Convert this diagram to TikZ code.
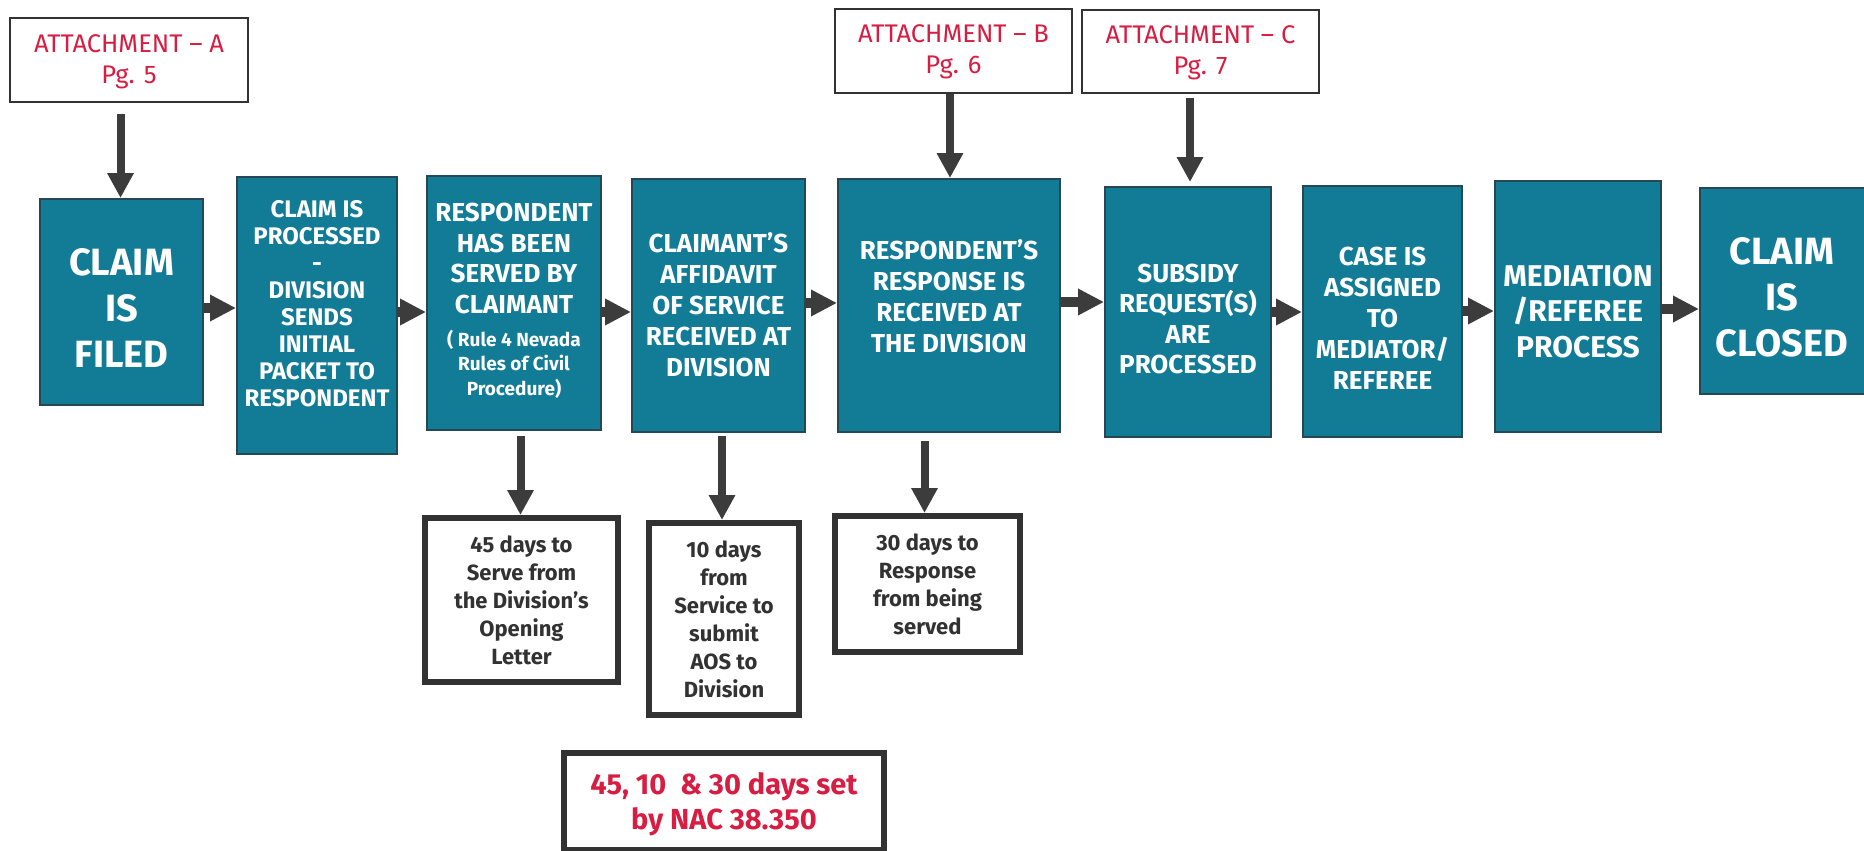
\documentclass[tikz,border=0pt]{standalone}
\usepackage{fontspec}
\setmainfont{Fira Sans}
\usetikzlibrary{arrows.meta,calc}
\definecolor{teal1}{RGB}{18,123,150}
\definecolor{tealedge}{RGB}{38,72,86}
\definecolor{arrgray}{RGB}{60,60,60}
\definecolor{redtxt}{RGB}{215,30,66}
\definecolor{darktxt}{RGB}{50,50,50}
\begin{document}
\begin{tikzpicture}[x=1pt,y=-1pt,
  tbox/.style={draw=tealedge, line width=2pt, fill=teal1, inner sep=0pt},
  ttext/.style={text=white, align=center, inner sep=0pt},
  abox/.style={draw=darktxt, line width=2pt, fill=white, inner sep=0pt},
  atext/.style={text=redtxt, align=center, inner sep=0pt, font=\fontsize{25.5}{31}\selectfont},
  lbox/.style={draw=darktxt, line width=6pt, fill=white, inner sep=0pt},
  ltext/.style={text=darktxt, align=center, inner sep=0pt, font=\bfseries\fontsize{22}{28}\selectfont},
  harr/.style={draw=arrgray, line width=10pt, -{Triangle[width=25pt,length=26pt]}},
  varr/.style={draw=arrgray, line width=8pt, -{Triangle[width=25pt,length=25pt]}}
]
\fill[white] (0,0) rectangle (1864,851);
\useasboundingbox (0,0) rectangle (1864,851);

% attachment boxes
\node[abox, minimum width=238pt, minimum height=84pt] (attA) at (129,60) {};
\node[atext] (attAt) at (129,62) {ATTACHMENT – A\\Pg. 5};
\node[abox, minimum width=237pt, minimum height=84pt] (attB) at (953.5,51) {};
\node[atext] (attBt) at (953.5,52) {ATTACHMENT – B\\Pg. 6};
\node[abox, minimum width=237pt, minimum height=83pt] (attC) at (1200.5,51.5) {};
\node[atext] (attCt) at (1200.5,53) {ATTACHMENT – C\\Pg. 7};

% main teal boxes
\node[tbox, minimum width=163pt, minimum height=206pt] (b1) at (121.5,302) {};
\node[ttext, font=\bfseries\fontsize{38}{46}\selectfont] (b1t) at (121.5,308) {CLAIM\\IS\\FILED};

\node[tbox, minimum width=160pt, minimum height=277pt] (b2) at (317,315.5) {};
\node[ttext, font=\bfseries\fontsize{24}{27}\selectfont] (b2t) at (317,304) {CLAIM IS\\PROCESSED\\-\\DIVISION\\SENDS\\INITIAL\\PACKET TO\\RESPONDENT};

\node[tbox, minimum width=174pt, minimum height=254pt] (b3) at (514,303) {};
\node[ttext, font=\bfseries\fontsize{26}{30.5}\selectfont] (b3t) at (514,258.5) {RESPONDENT\\HAS BEEN\\SERVED BY\\CLAIMANT};
\node[ttext, font=\bfseries\fontsize{19}{24.5}\selectfont] (b3s) at (514,364) {( Rule 4 Nevada\\Rules of Civil\\Procedure)};

\node[tbox, minimum width=173pt, minimum height=253pt] (b4) at (718.5,305.5) {};
\node[ttext, font=\bfseries\fontsize{26}{31}\selectfont] (b4t) at (718.5,305) {CLAIMANT’S\\AFFIDAVIT\\OF SERVICE\\RECEIVED AT\\DIVISION};

\node[tbox, minimum width=222pt, minimum height=253pt] (b5) at (949,305.5) {};
\node[ttext, font=\bfseries\fontsize{26}{31}\selectfont] (b5t) at (949,296) {RESPONDENT’S\\RESPONSE IS\\RECEIVED AT\\THE DIVISION};

\node[tbox, minimum width=166pt, minimum height=250pt] (b6) at (1188,312) {};
\node[ttext, font=\bfseries\fontsize{26}{30.5}\selectfont] (b6t) at (1188,319) {SUBSIDY\\REQUEST(S)\\ARE\\PROCESSED};

\node[tbox, minimum width=159pt, minimum height=251pt] (b7) at (1382.5,311.5) {};
\node[ttext, font=\bfseries\fontsize{26}{31}\selectfont] (b7t) at (1382.5,318.5) {CASE IS\\ASSIGNED\\TO\\MEDIATOR/\\REFEREE};

\node[tbox, minimum width=166pt, minimum height=251pt] (b8) at (1578,306.5) {};
\node[ttext, font=\bfseries\fontsize{30}{35.5}\selectfont] (b8t) at (1578,311.5) {MEDIATION\\/REFEREE\\PROCESS};

\node[tbox, minimum width=168pt, minimum height=206pt] (b9) at (1784,291) {};
\node[ttext, font=\bfseries\fontsize{38}{46}\selectfont] (b9t) at (1782,297.5) {CLAIM\\IS\\CLOSED};

% lower boxes
\node[lbox, minimum width=193pt, minimum height=164pt] (l1) at (521.5,600) {};
\node[ltext] (l1t) at (521.5,600) {45 days to\\Serve from\\the Division’s\\Opening\\Letter};
\node[lbox, minimum width=150pt, minimum height=192pt] (l2) at (724,619) {};
\node[ltext] (l2t) at (724,619.5) {10 days\\from\\Service to\\submit\\AOS to\\Division};
\node[lbox, minimum width=185pt, minimum height=136pt] (l3) at (927.5,584) {};
\node[ltext] (l3t) at (927.5,584) {30 days to\\Response\\from being\\served};
\node[lbox, minimum width=320pt, minimum height=97pt] (nac) at (724,801.5) {};
\node[ltext, text=redtxt, font=\bfseries\fontsize{29}{35}\selectfont] (nact) at (724,804) {45, 10\ \ \& 30 days set\\by NAC 38.350};

% horizontal arrows
\draw[harr] (b1.east |- 0,308) -- (b2.west |- 0,308);
\draw[harr] (b2.east |- 0,312) -- (b3.west |- 0,312);
\draw[harr] (b3.east |- 0,312) -- (b4.west |- 0,312);
\draw[harr] (b4.east |- 0,303) -- (b5.west |- 0,303);
\draw[harr] (b5.east |- 0,302) -- (b6.west |- 0,302);
\draw[harr] (b6.east |- 0,312) -- (b7.west |- 0,312);
\draw[harr] (b7.east |- 0,311) -- (b8.west |- 0,311);
\draw[harr] (b8.east |- 0,309) -- (b9.west |- 0,309);

% vertical arrows
\draw[varr] ($(b1.north |- attA.south)+(-1,11)$) -- ($(b1.north)+(-1,0)$);
\draw[varr] ($(b5.north |- attB.south)+(1,0)$) -- ($(b5.north)+(1,0)$);
\draw[varr] ($(b6.north |- attC.south)+(2,4)$) -- ($(b6.north)+(2,-4)$);
\draw[varr] ($(l1.north |- b3.south)+(-1,5)$) -- ($(l1.north)+(-1,0)$);
\draw[varr] ($(l2.north |- b4.south)+(-2,3)$) -- ($(l2.north)+(-2,0)$);
\draw[varr] ($(l3.north |- b5.south)+(-3,8)$) -- ($(l3.north)+(-3,0)$);
\end{tikzpicture}
\end{document}
